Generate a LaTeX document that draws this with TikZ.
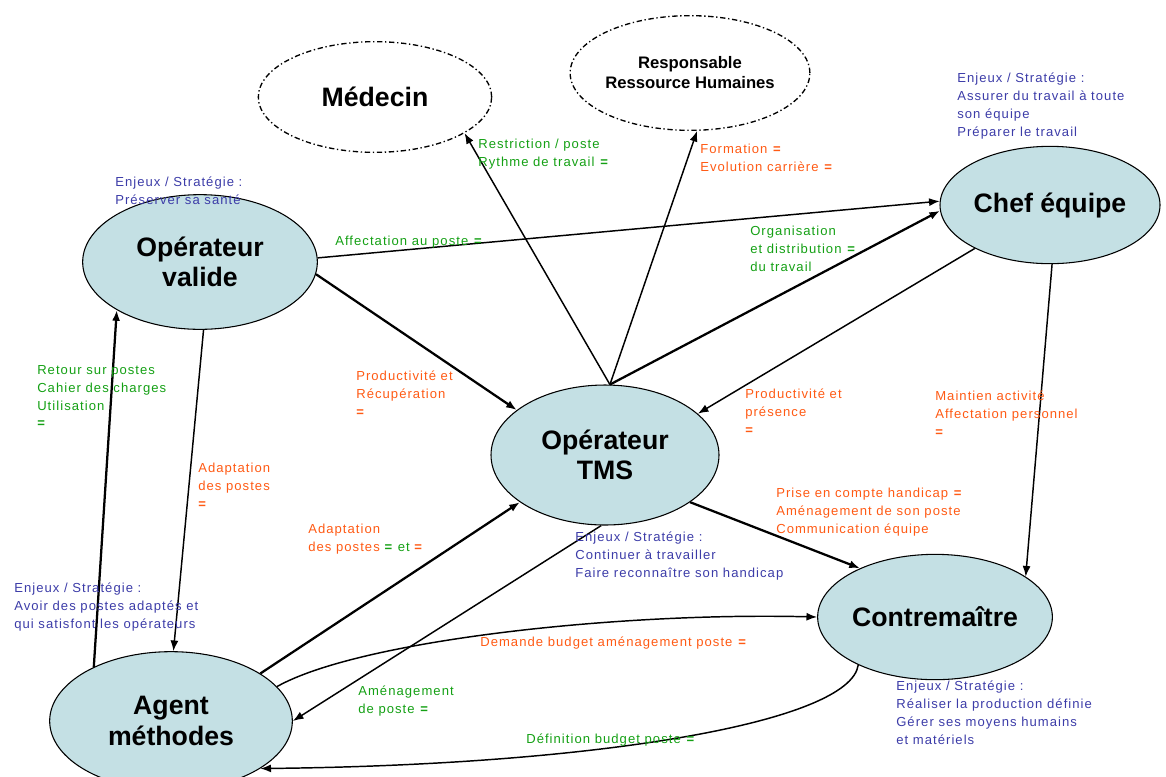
\documentclass[tikz,border=0pt]{standalone}
\usepackage{fontspec}
\setmainfont{Liberation Sans}
\newfontfamily\lblfont[LetterSpace=8]{Liberation Sans}
\usepackage{tikz}
\usetikzlibrary{shapes,arrows,arrows.meta,calc}
\usepackage{xcolor}
\definecolor{acteur}{HTML}{C4E0E4}
\definecolor{enjeu}{HTML}{3C3CA8}
\definecolor{flux}{HTML}{14A014}
\definecolor{demande}{HTML}{FF5A14}
\newcommand{\mk}{\textbf{=}}

\begin{document}
\begin{tikzpicture}[x=0.75pt,y=-0.75pt,
            acteur/.style={ellipse,draw=black,fill=acteur,line width=0.8pt,inner sep=0pt,align=center,font=\fontsize{20}{23}\selectfont\bfseries},
            externe/.style={ellipse,draw=black,fill=white,line width=1pt,dash pattern=on 4pt off 2pt on 1pt off 2pt,inner sep=0pt,align=center,font=\bfseries},
            lbl/.style={anchor=north west,inner sep=0pt,align=left,font=\lblfont\fontsize{9.8}{13.4}\selectfont},
            fl/.style={-{Latex[length=8pt,width=6pt]},line width=1.1pt},
            gros/.style={-{Latex[length=8pt,width=6pt]},line width=1.7pt}]

            \useasboundingbox (0,0) rectangle (1166,776);

            % acteurs
            \node[externe,minimum width=175pt,minimum height=83pt,font=\fontsize{20}{23}\selectfont\bfseries] (medecin) at (375,97) {Médecin};
            \node[externe,minimum width=165pt,minimum height=86pt,font=\fontsize{12.5}{15}\selectfont\bfseries] (rrh) at (690,73) {Responsable\\Ressource Humaines};
            \node[acteur,minimum width=165pt,minimum height=88pt] (chef) at (1050,205) {Chef équipe};
            \node[acteur,minimum width=176pt,minimum height=101pt] (opvalide) at (200,262) {Opérateur\\valide};
            \node[acteur,minimum width=171pt,minimum height=105pt] (tms) at (605,455) {Opérateur\\TMS};
            \node[acteur,minimum width=165pt,minimum height=94pt] (contre) at (935,617) {Contremaître};
            \node[acteur,minimum width=182pt,minimum height=104pt] (agent) at (171,721) {Agent\\méthodes};

            % fleches
            \draw[fl] (tms.86) -- (medecin.-22);
            \draw[fl] (tms.86) -- (rrh.-83);
            \draw[gros] (tms.86) -- (chef.183);
            \draw[fl] (opvalide.2) -- (chef.178);
            \draw[gros] (opvalide.-6) -- (tms.153);
            \draw[fl] (chef.210) -- (tms.24);
            \draw[fl] (chef.-88) -- (contre.24);
            \draw[fl] (opvalide.-87) -- (agent.88);
            \draw[gros] (agent.145) -- (opvalide.210);
            \draw[gros] (agent.28) -- (tms.209);
            \draw[fl] (tms.-93) -- (agent.0);
            \draw[gros] (tms.-29) -- (contre.147);
            \draw[fl] (agent.18) .. controls (360,640) and (620,612) .. (contre.180);
            \draw[fl] (contre.-148) .. controls (850,722) and (600,765) .. (agent.-28);

            % enjeux
            \node[lbl,text=enjeu] (enjvalide) at (115,177) {Enjeux / Stratégie :\\Préserver sa santé};
            \node[lbl,text=enjeu] (enjchef) at (957,73) {Enjeux / Stratégie :\\Assurer du travail à toute\\son équipe\\Préparer le travail};
            \node[lbl,text=enjeu] (enjtms) at (575,532) {Enjeux / Stratégie :\\Continuer à travailler\\Faire reconnaître son handicap};
            \node[lbl,text=enjeu] (enjagent) at (14,583) {Enjeux / Stratégie :\\Avoir des postes adaptés et\\qui satisfont les opérateurs};
            \node[lbl,text=enjeu] (enjcontre) at (896,681) {Enjeux / Stratégie :\\Réaliser la production définie\\Gérer ses moyens humains\\et matériels};

            % echanges
            \node[lbl,text=flux] (restr) at (478,139) {Restriction / poste\\Rythme de travail \mk};
            \node[lbl,text=demande] (form) at (700,144) {Formation \mk\\Evolution carrière \mk};
            \node[lbl,text=flux] (affect) at (335,236) {Affectation au poste \mk};
            \node[lbl,text=flux] (orga) at (750,226) {Organisation\\et distribution \mk\\du travail};
            \node[lbl,text=flux] (retour) at (37,365) {Retour sur postes\\Cahier des charges\\Utilisation\\\mk};
            \node[lbl,text=demande] (prodrecup) at (356,371) {Productivité et\\Récupération\\\mk};
            \node[lbl,text=demande] (prodpres) at (745,389) {Productivité et\\présence\\\mk};
            \node[lbl,text=demande] (maintien) at (935,391) {Maintien activité\\Affectation personnel\\\mk};
            \node[lbl,text=demande] (adapt1) at (198,463) {Adaptation\\des postes\\\mk};
            \node[lbl,text=demande] (handicap) at (776,488) {Prise en compte handicap \mk\\Aménagement de son poste\\Communication équipe};
            \node[lbl,text=demande] (adapt2) at (308,524) {Adaptation\\des postes \textcolor{flux}{\mk{} et} \mk};
            \node[lbl,text=demande] (budget) at (480,637) {Demande budget aménagement poste \mk};
            \node[lbl,text=flux] (amenag) at (358,686) {Aménagement\\de poste \mk};
            \node[lbl,text=flux] (defbudget) at (526,734) {Définition budget poste \mk};
\end{tikzpicture}
\end{document}
